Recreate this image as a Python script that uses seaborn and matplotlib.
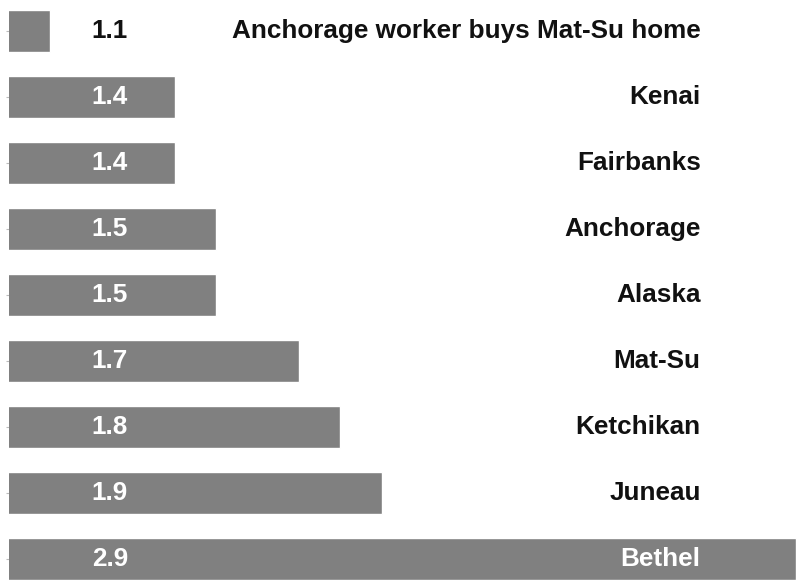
import matplotlib
matplotlib.use("Agg")
import matplotlib.pyplot as plt
import seaborn as sns
import pandas as pd

# data
places = ["Anchorage worker buys Mat-Su home", "Kenai", "Fairbanks", "Anchorage",
          "Alaska", "Mat-Su", "Ketchikan", "Juneau", "Bethel"]
values = [1.1, 1.4, 1.4, 1.5, 1.5, 1.7, 1.8, 1.9, 2.9]

df = pd.DataFrame({"place": places, "value": values})

sns.set_style("white")
plt.rcParams["font.family"] = ["Liberation Sans", "DejaVu Sans"]

fig = plt.figure(figsize=(8.07, 5.80), dpi=100)
ax = fig.add_axes([9 / 807, 0, 789 / 807, 1])

sns.barplot(data=df, y="place", x="value", orient="h", color="#808080",
            saturation=1, width=0.65, ax=ax)

ax.set_xlim(1.0, 2.905)
ax.set_ylim(8.318, -0.47)
for s in ax.spines.values():
    s.set_visible(False)
ax.set_xticks([])
ax.set_yticklabels([])
ax.tick_params(axis="y", length=2, width=0.8, color="#bbbbbb", left=True)
ax.set_xlabel("")
ax.set_ylabel("")

num_x = 1.2
name_x = 2.67
for i, (p, v) in enumerate(zip(places, values)):
    c1 = "white" if v > num_x + 0.05 else "#111111"
    c2 = "white" if v > name_x else "#111111"
    ax.text(num_x, i, f"{v:.1f}", ha="left", va="center", fontsize=18.8,
            fontweight="bold", color=c1)
    ax.text(name_x, i, p, ha="right", va="center", fontsize=18.8,
            fontweight="bold", color=c2)

fig.savefig("out.png", dpi=100)
